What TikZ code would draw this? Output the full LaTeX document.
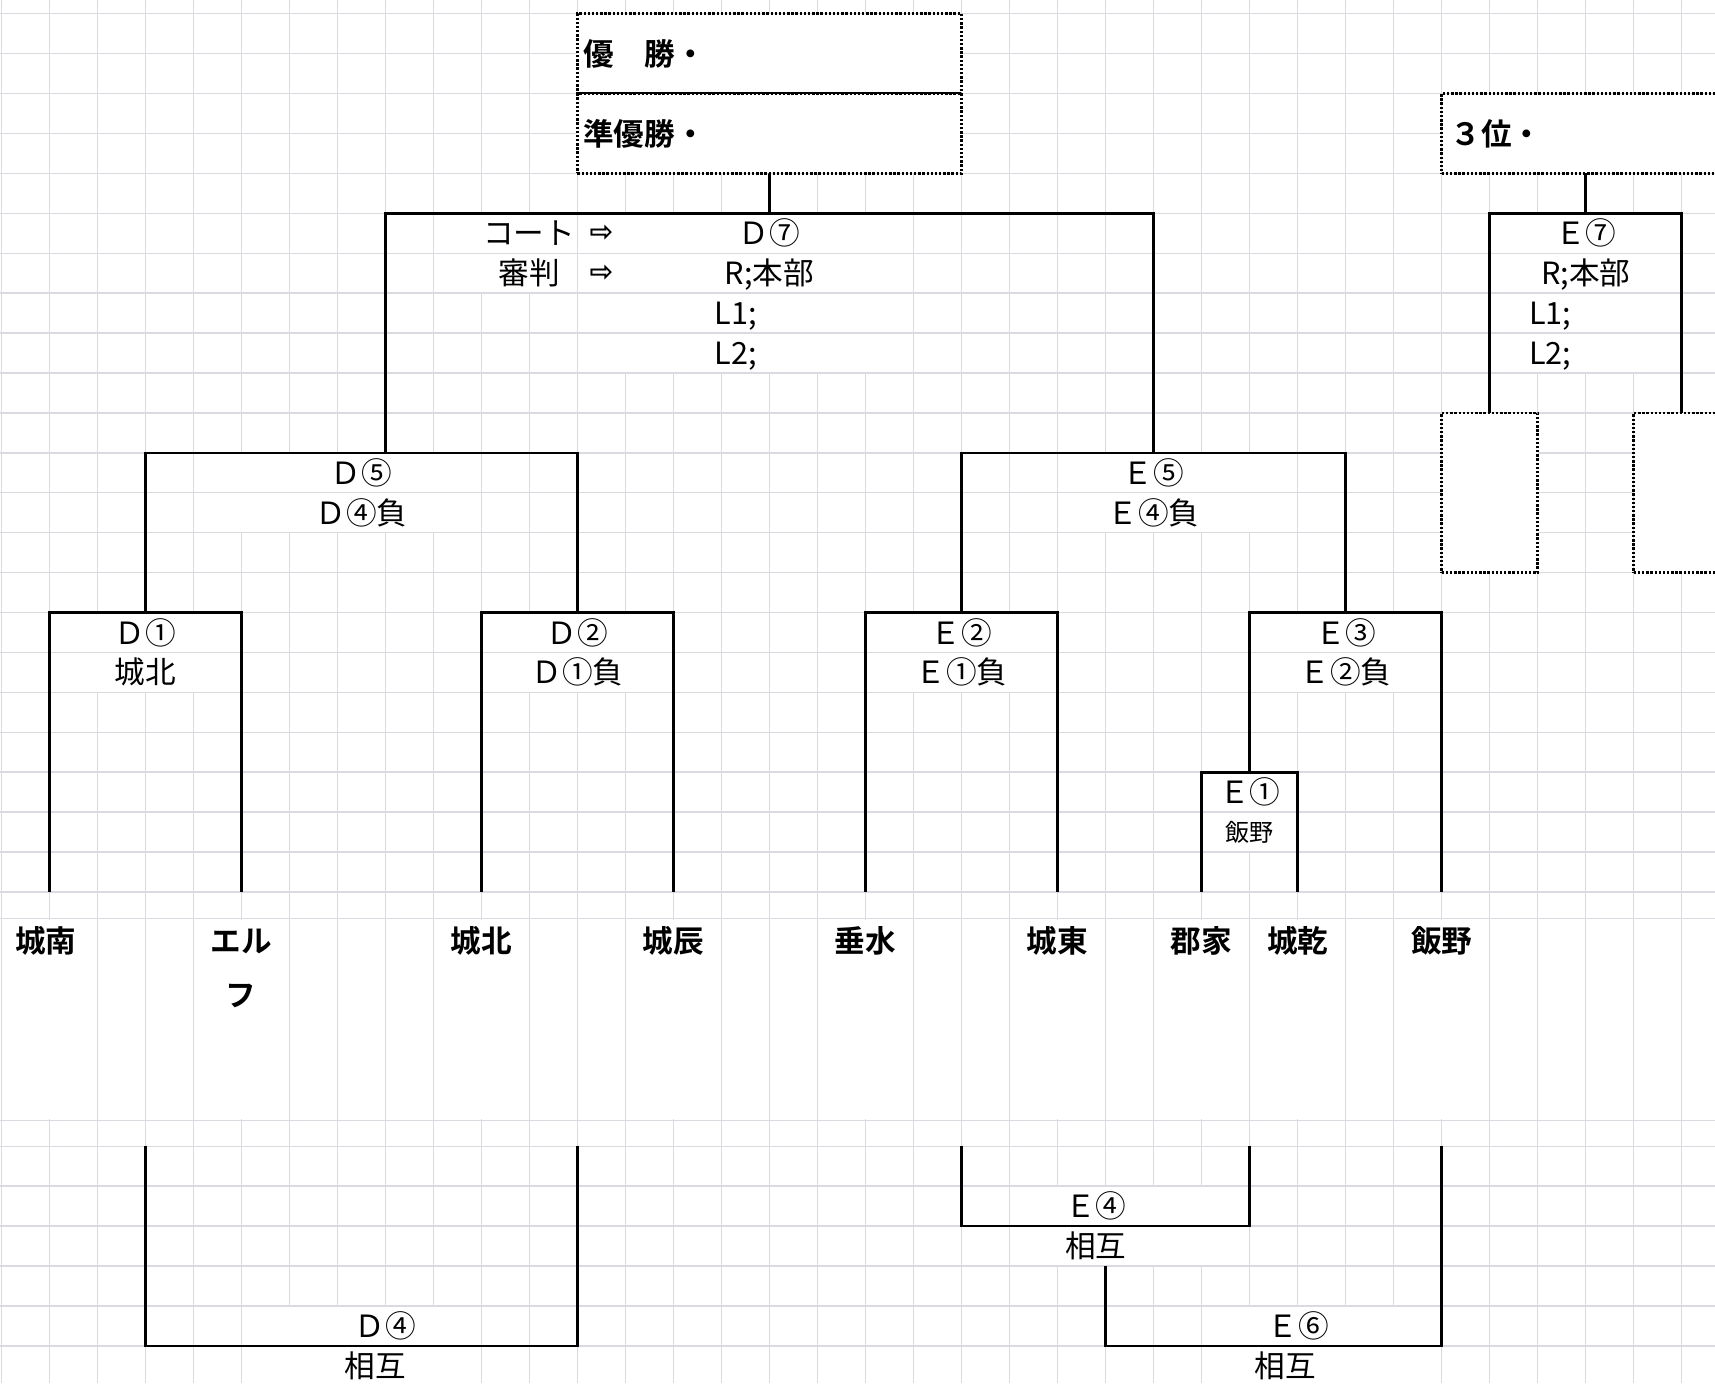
\documentclass[tikz,border=0pt]{standalone}
\usepackage{fontspec}
\setmainfont{Noto Sans CJK JP}[BoldFont={Noto Sans CJK JP Bold}]
\newfontfamily\dvfont{DejaVu Sans}
\definecolor{gridc}{RGB}{218,218,225}
\begin{document}
\begin{tikzpicture}[x=1pt,y=-1pt,
  gridv/.style={draw=gridc, line width=0.9pt},
  gridh/.style={draw=gridc, line width=1.3pt},
  br/.style={draw=black, line width=2.4pt},
  dotbox/.style={draw=black, fill=white, line width=2.4pt, dash pattern=on 2.2pt off 1.6pt, inner sep=0pt, outer sep=0pt, anchor=north west},
  lab/.style={inner sep=0pt, font=\fontsize{28}{32}\selectfont, text height=24.6pt, text depth=3.4pt},
  smalllab/.style={inner sep=0pt, font=\fontsize{22}{26}\selectfont, text height=19.4pt, text depth=2.6pt},
  team/.style={inner sep=0pt, font=\bfseries\fontsize{28}{32}\selectfont, text height=24.6pt, text depth=3.4pt},
  arr/.style={inner sep=0pt, font=\dvfont\bfseries\fontsize{26}{30}\selectfont}
]
\useasboundingbox (0,0) rectangle (1568,1264.5);
\fill[white] (0,0) rectangle (1568,1264.5);
% ---- grid: vertical lines
\foreach \k in {-1,...,34} \draw[gridv] ({45+43.9*\k},0) -- ({45+43.9*\k},1264.5);
% merged cells hide vertical lines
\foreach \a/\b/\c/\d in {571.8/195/834.3/341, 440.1/195/527.9/268, 1362/195/1537.6/341,
  220.6/414/440.1/487, 966.9/414/1142.5/487,
  45/560/220.6/633, 440.1/560/615.7/633, 791.3/560/966.9/633, 1142.5/560/1318.1/633,
  1098.6/706/1186.4/779,
  264.5/1194/440.1/1267, 923/1084.5/1098.6/1157.5, 1098.6/1194/1274.2/1267}
  \fill[white] (\a,\b) rectangle (\c,\d);
\foreach \xx in {45,220.6,440.1,615.7,791.3,966.9,1098.6,1186.4,1318.1}
  \fill[white] ({\xx-3},841) rectangle ({\xx+3},1023.5);
% ---- grid: horizontal lines
\foreach \j in {0,...,22} \draw[gridh] (0,{12.5+36.5*\j}) -- (1568,{12.5+36.5*\j});
\foreach \yy in {840,1024.5,1048,1084.5,1121,1157.5,1194,1230.5} \draw[gridh] (0,\yy) -- (1568,\yy);

% ---- dotted result boxes
\node[dotbox, minimum width=351.2pt, minimum height=73pt] (win) at (527.9,12.5) {};
\node[dotbox, minimum width=351.2pt, minimum height=73pt] (runner) at (527.9,85.5) {};
\node[dotbox, minimum width=263.4pt, minimum height=73pt] (third) at (1318.1,85.5) {};
\node[dotbox, minimum width=87.8pt, minimum height=146pt] (sbL) at (1318.1,377.5) {};
\node[dotbox, minimum width=87.8pt, minimum height=146pt] (sbR) at (1493.7,377.5) {};
\node[team, anchor=west] (wint) at (533,49) {優　勝・};
\node[team, anchor=west] (runt) at (533,122) {準優勝・};
\node[team, anchor=west] (thirdt) at (1326,122) {３位・};

% ---- bracket coordinates
\coordinate (tA) at (45,815.5);
\coordinate (tB) at (220.6,815.5);
\coordinate (tC) at (440.1,815.5);
\coordinate (tD) at (615.7,815.5);
\coordinate (tE) at (791.3,815.5);
\coordinate (tF) at (966.9,815.5);
\coordinate (tG) at (1098.6,815.5);
\coordinate (tH) at (1186.4,815.5);
\coordinate (tI) at (1318.1,815.5);
\coordinate (d1) at (132.8,560);
\coordinate (d2) at (527.9,560);
\coordinate (d5) at (352.3,414);
\coordinate (d7) at (703.5,195);
\coordinate (e1) at (1142.5,706);
\coordinate (e2) at (879.1,560);
\coordinate (e3) at (1230.3,560);
\coordinate (e5) at (1054.7,414);
\coordinate (e7) at (1449.8,195);
\coordinate (bA) at (132.8,1048);
\coordinate (bB) at (527.9,1048);
\coordinate (d4) at (352.3,1230.5);
\coordinate (bE) at (879.1,1048);
\coordinate (bG) at (1142.5,1048);
\coordinate (e4) at (1010.8,1121);
\coordinate (e4s) at (1010.8,1157.5);
\coordinate (e6) at (1164,1230.5);
\coordinate (bI) at (1318.1,1048);

% ---- bracket lines
\draw[br] (tA) |- (d1) -| (tB);
\draw[br] (tC) |- (d2) -| (tD);
\draw[br] (d1) |- (d5) -| (d2);
\draw[br] (d5) |- (d7) -| (e5);
\draw[br] (runner.south) -- (d7);
\draw[br] (tG) |- (e1) -| (tH);
\draw[br] (tE) |- (e2) -| (tF);
\draw[br] (e1) |- (e3) -| (tI);
\draw[br] (e2) |- (e5) -| (e3);
\draw[br] (third.south) -- (e7);
\draw[br] (sbL.north) |- (e7) -| (sbR.north);
\draw[br] (bA) |- (d4) -| (bB);
\draw[br] (bE) |- (e4) -| (bG);
\draw[br] (e4s) |- (e6) -| (bI);

% ---- match labels
\node[lab, anchor=east] (court) at (526,213.25) {コート};
\node[arr] (arr1) at (550,213.25) {⇨};
\node[lab] (judge) at (484,249.75) {審判};
\node[arr] (arr2) at (550,249.75) {⇨};
\node[lab] (d7a) at (703.5,213.25) {Ｄ⑦};
\node[lab] (d7b) at (703.5,249.75) {R;本部};
\node[lab, anchor=west] (d7c) at (653,286.25) {L1;};
\node[lab, anchor=west] (d7d) at (653,322.75) {L2;};

\node[lab] (e7a) at (1449.8,213.25) {Ｅ⑦};
\node[lab] (e7b) at (1449.8,249.75) {R;本部};
\node[lab, anchor=west] (e7c) at (1398,286.25) {L1;};
\node[lab, anchor=west] (e7d) at (1398,322.75) {L2;};

\node[lab] (d5a) at (330.4,432.25) {Ｄ⑤};
\node[lab] (d5b) at (330.4,468.75) {Ｄ④負};
\node[lab] (e5a) at (1054.7,432.25) {Ｅ⑤};
\node[lab] (e5b) at (1054.7,468.75) {Ｅ④負};

\node[lab] (d1a) at (132.8,578.25) {Ｄ①};
\node[lab] (d1b) at (132.8,614.75) {城北};
\node[lab] (d2a) at (527.9,578.25) {Ｄ②};
\node[lab] (d2b) at (527.9,614.75) {Ｄ①負};
\node[lab] (e2a) at (879.1,578.25) {Ｅ②};
\node[lab] (e2b) at (879.1,614.75) {Ｅ①負};
\node[lab] (e3a) at (1230.3,578.25) {Ｅ③};
\node[lab] (e3b) at (1230.3,614.75) {Ｅ②負};
\node[lab] (e1a) at (1142.5,724.25) {Ｅ①};
\node[smalllab] (e1b) at (1142.5,761) {飯野};

\node[lab] (d4a) at (352.3,1212.25) {Ｄ④};
\node[lab] (d4b) at (343,1248.75) {相互};
\node[lab] (e4a) at (1002,1102.75) {Ｅ④};
\node[lab] (e4b) at (1002,1139.25) {相互};
\node[lab] (e6a) at (1187,1212.25) {Ｅ⑥};
\node[lab] (e6b) at (1175,1248.75) {相互};

% ---- teams
\node[team] (nA) at (42,860) {城南};
\node[team] (nB1) at (220.6,860) {エル};
\node[team] (nB2) at (220.6,910) {フ};
\node[team] (nC) at (440.1,860) {城北};
\node[team] (nD) at (615.7,860) {城辰};
\node[team] (nE) at (791.3,860) {垂水};
\node[team] (nF) at (966.9,860) {城東};
\node[team] (nG) at (1098.6,860) {郡家};
\node[team] (nH) at (1186.4,860) {城乾};
\node[team] (nI) at (1318.1,860) {飯野};
\end{tikzpicture}
\end{document}
